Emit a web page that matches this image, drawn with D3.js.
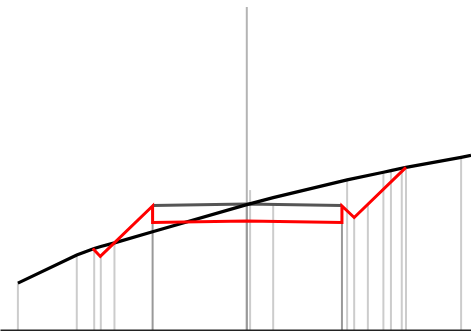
<!DOCTYPE html>
<html>
<head>
<meta charset="utf-8">
<script src="https://cdn.jsdelivr.net/npm/d3@7"></script>
<style>
html,body{margin:0;padding:0;background:#fff;overflow:hidden;}
svg{display:block;}
</style>
</head>
<body>
<svg id="chart" width="471" height="331"></svg>
<script>
// ---- data ----
const curveX = [3.8,16.3,20.0,21.4,24.3,32.4,52.4,58.0,73.7,81.4,83.0,86.2,97.9,100];
const curveY = [14.2,22.7,24.7,25.3,26.4,29.8,38.0,40.1,45.5,47.8,48.3,49.3,52.3,52.9];

const bracketX = [32.4,52.4,72.6];
const bracketY = [37.7,38.2,37.7];

const redX = [19.7,21.3,32.4,32.4,52.4,72.6,72.6,75.2,86.2];
const redY = [24.7,22.3,37.6,32.6,33.0,32.6,37.6,34.1,49.3];

const dropX     = [3.8,16.3,20.0,21.4,24.3,32.4,52.4,52.4,53.1,58.0,72.6,73.7,75.2,78.1,81.4,83.0,85.3,86.2,97.9];
const dropTop   = [14.2,22.7,24.7,22.3,26.4,37.7,97.9,38.2,42.4,37.9,37.7,45.5,34.1,37.9,47.8,48.3,48.0,49.3,52.3];
const dropGroup = ["minor","minor","minor","minor","minor","major","center","major","minor","minor","major","minor","minor","minor","minor","minor","minor","minor","minor"];

// ---- scales ----
const W = 471, H = 331;
const x = d3.scaleLinear().domain([0,100]).range([0,W]);
const y = d3.scaleLinear().domain([0,100]).range([330,0]);

const svg = d3.select("#chart");
const dropColor = {minor:"#cccccc", major:"#999999", center:"#b4b4b4"};

// drop lines
svg.append("g").selectAll("line")
  .data(dropX.map((d,i)=>({x:d, top:dropTop[i], g:dropGroup[i]})))
  .join("line")
  .attr("x1", d=>x(d.x)).attr("x2", d=>x(d.x))
  .attr("y1", y(0)).attr("y2", d=>y(d.top))
  .attr("stroke", d=>dropColor[d.g])
  .attr("stroke-width", 2);

const line = d3.line().x(d=>x(d[0])).y(d=>y(d[1]));

// dark grey bracket
svg.append("path")
  .attr("d", line(bracketX.map((d,i)=>[d,bracketY[i]])))
  .attr("fill","none").attr("stroke","#555").attr("stroke-width",3);

// black curve
svg.append("path")
  .attr("d", line(curveX.map((d,i)=>[d,curveY[i]])))
  .attr("fill","none").attr("stroke","#000").attr("stroke-width",3.2);

// red line
svg.append("path")
  .attr("d", line(redX.map((d,i)=>[d,redY[i]])))
  .attr("fill","none").attr("stroke","#ff0000").attr("stroke-width",3);

// baseline axis
const axis = d3.axisBottom(x).tickValues([]).tickSizeOuter(0);
const ag = svg.append("g").attr("transform",`translate(0,${y(0)})`).call(axis);
ag.select(".domain").attr("stroke","#222").attr("stroke-width",2);
</script>
</body>
</html>
